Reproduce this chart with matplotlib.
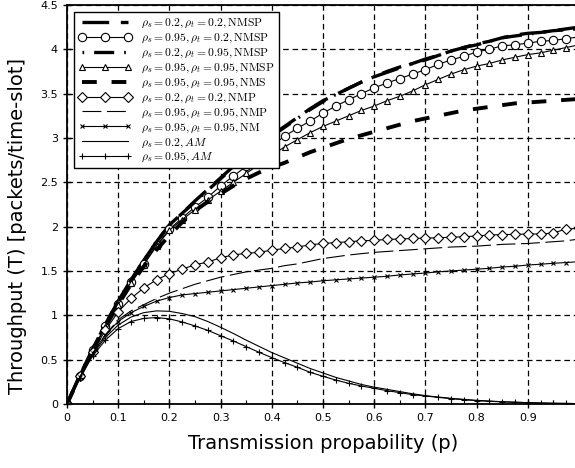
import matplotlib
matplotlib.use('Agg')
import matplotlib.pyplot as plt
import numpy as np

plt.rcParams['mathtext.fontset'] = 'cm'

# transmission probability, one point every 0.025
p = [i / 40 for i in range(41)]

nmsp_02_02 = [0, 0.32, 0.62, 0.90, 1.16, 1.40, 1.62, 1.83, 2.02,
              2.15, 2.29, 2.42, 2.55, 2.68, 2.80, 2.92, 3.03,
              3.13, 3.23, 3.33, 3.42, 3.49, 3.56, 3.63, 3.69,
              3.74, 3.79, 3.84, 3.89, 3.93, 3.98, 4.02, 4.06,
              4.09, 4.13, 4.16, 4.18, 4.19, 4.21, 4.23, 4.25]
nmsp_095_02 = [0, 0.31, 0.61, 0.88, 1.13, 1.37, 1.58, 1.79, 1.97,
               2.10, 2.22, 2.33, 2.46, 2.57, 2.68, 2.79, 2.91,
               3.02, 3.11, 3.19, 3.28, 3.36, 3.43, 3.50, 3.565,
               3.62, 3.67, 3.72, 3.77, 3.83, 3.88, 3.92, 3.97,
               4.00, 4.04, 4.05, 4.07, 4.09, 4.10, 4.12, 4.14]
nmsp_02_095 = [0, 0.32, 0.62, 0.90, 1.16, 1.40, 1.62, 1.83, 2.02,
               2.15, 2.28, 2.41, 2.54, 2.67, 2.79, 2.91, 3.02,
               3.12, 3.22, 3.32, 3.41, 3.49, 3.56, 3.63, 3.69,
               3.75, 3.80, 3.84, 3.88, 3.93, 3.98, 4.02, 4.05,
               4.09, 4.13, 4.15, 4.17, 4.19, 4.21, 4.22, 4.23]
nmsp_095_095 = [0, 0.31, 0.60, 0.87, 1.12, 1.36, 1.57, 1.78, 1.96,
                2.08, 2.19, 2.30, 2.40, 2.50, 2.60, 2.70, 2.80,
                2.90, 2.98, 3.06, 3.13, 3.19, 3.25, 3.31, 3.36,
                3.42, 3.47, 3.53, 3.60, 3.66, 3.72, 3.77, 3.81,
                3.84, 3.88, 3.91, 3.94, 3.96, 3.99, 4.02, 4.05]
nms_095_095 = [0, 0.31, 0.60, 0.87, 1.12, 1.35, 1.55, 1.74, 1.90,
               2.05, 2.18, 2.28, 2.37, 2.46, 2.54, 2.61, 2.67,
               2.72, 2.78, 2.84, 2.89, 2.94, 2.99, 3.03, 3.07,
               3.11, 3.15, 3.19, 3.22, 3.25, 3.28, 3.31, 3.33,
               3.35, 3.37, 3.39, 3.40, 3.41, 3.42, 3.43, 3.44]
nmp_02_02 = [0, 0.31, 0.59, 0.83, 1.04, 1.19, 1.31, 1.40, 1.47,
             1.52, 1.57, 1.60, 1.65, 1.68, 1.70, 1.71, 1.735,
             1.754, 1.77, 1.795, 1.81, 1.82, 1.83, 1.84, 1.845,
             1.856, 1.86, 1.867, 1.87, 1.875, 1.88, 1.886, 1.894,
             1.905, 1.91, 1.913, 1.917, 1.917, 1.928, 1.974, 1.98]
nmp_095_095 = [0, 0.30, 0.57, 0.78, 0.95, 1.05, 1.12, 1.19, 1.25,
               1.30, 1.35, 1.39, 1.43, 1.46, 1.49, 1.51, 1.53,
               1.56, 1.58, 1.61, 1.64, 1.66, 1.68, 1.695, 1.71,
               1.72, 1.73, 1.74, 1.75, 1.76, 1.77, 1.775, 1.78,
               1.79, 1.80, 1.805, 1.81, 1.82, 1.83, 1.84, 1.86]
nm_095_095 = [0, 0.30, 0.57, 0.78, 0.93, 1.03, 1.10, 1.16, 1.20,
              1.23, 1.245, 1.26, 1.275, 1.29, 1.305, 1.32, 1.335,
              1.35, 1.365, 1.375, 1.39, 1.40, 1.41, 1.42, 1.43,
              1.44, 1.455, 1.466, 1.477, 1.49, 1.50, 1.51, 1.52,
              1.53, 1.545, 1.553, 1.567, 1.576, 1.587, 1.595, 1.605]
am_02 = [0, 0.30, 0.56, 0.75, 0.89, 0.98, 1.03, 1.05, 1.045,
         1.02, 0.985, 0.93, 0.865, 0.795, 0.72, 0.65, 0.58,
         0.52, 0.46, 0.40, 0.35, 0.30, 0.26, 0.22, 0.19,
         0.165, 0.14, 0.115, 0.094, 0.078, 0.064, 0.052, 0.041,
         0.033, 0.026, 0.020, 0.015, 0.011, 0.008, 0.006, 0.004]
am_095 = [0, 0.29, 0.54, 0.72, 0.85, 0.93, 0.965, 0.975, 0.96,
          0.925, 0.88, 0.83, 0.77, 0.71, 0.647, 0.583, 0.523,
          0.466, 0.414, 0.357, 0.312, 0.27, 0.233, 0.203, 0.177,
          0.15, 0.128, 0.105, 0.09, 0.075, 0.06, 0.048, 0.038,
          0.03, 0.024, 0.019, 0.015, 0.011, 0.008, 0.006, 0.004]

labels = [r'$\rho_s=0.2, \rho_t=0.2, \mathrm{NMSP}$',
          r'$\rho_s=0.95, \rho_t=0.2, \mathrm{NMSP}$',
          r'$\rho_s=0.2, \rho_t=0.95, \mathrm{NMSP}$',
          r'$\rho_s=0.95, \rho_t=0.95, \mathrm{NMSP}$',
          r'$\rho_s=0.95, \rho_t=0.95, \mathrm{NMS}$',
          r'$\rho_s=0.2, \rho_t=0.2, \mathrm{NMP}$',
          r'$\rho_s=0.95, \rho_t=0.95, \mathrm{NMP}$',
          r'$\rho_s=0.95, \rho_t=0.95, \mathrm{NM}$',
          r'$\rho_s=0.2, AM$',
          r'$\rho_s=0.95, AM$']

fig = plt.figure(figsize=(5.75, 4.68), dpi=100)
ax = fig.add_axes([0.1165, 0.1368, 0.8904, 0.8526])

thin = 0.8
ax.plot(p, nmsp_02_02, color='k', lw=2.4, dashes=(8, 3.5), label=labels[0])
ax.plot(p, nmsp_095_02, color='k', lw=thin, marker='o', ms=6, mfc='white',
        mew=0.8, label=labels[1])
ax.plot(p, nmsp_02_095, color='k', lw=2.4, dashes=(0.5, 3, 6, 3), label=labels[2])
ax.plot(p, nmsp_095_095, color='k', lw=thin, marker='^', ms=4, mfc='white',
        mew=0.8, label=labels[3])
ax.plot(p, nms_095_095, color='k', lw=2.8, dashes=(3.8, 3.8), label=labels[4])
ax.plot(p, nmp_02_02, color='k', lw=thin, marker='D', ms=5, mfc='white',
        mew=0.8, label=labels[5])
ax.plot(p, nmp_095_095, color='k', lw=thin, dashes=(17, 5), label=labels[6])
ax.plot(p, nm_095_095, color='k', lw=thin, marker='x', ms=3.5, mew=0.8,
        label=labels[7])
ax.plot(p, am_02, color='k', lw=thin, label=labels[8])
ax.plot(p, am_095, color='k', lw=thin, marker='+', ms=4, mew=0.8, label=labels[9])

ax.set_xlim(0, 1)
ax.set_ylim(0, 4.5)
ax.set_xticks(np.arange(0, 1.01, 0.1))
ax.set_xticklabels(['0', '0.1', '0.2', '0.3', '0.4', '0.5', '0.6', '0.7', '0.8', '0.9', '1'])
ax.set_xticks(np.arange(0.05, 1, 0.1), minor=True)
ax.set_yticks(np.arange(0, 4.51, 0.5))
ax.set_yticklabels(['0', '0.5', '1', '1.5', '2', '2.5', '3', '3.5', '4', '4.5'])
ax.tick_params(which='major', direction='inout', length=6, width=1, labelsize=8)
ax.tick_params(which='minor', direction='in', length=3, width=0.8)
ax.grid(True, which='major', color='k', lw=0.9, linestyle=(0, (4.5, 3)))
for s in ax.spines.values():
    s.set_linewidth(1.3)

ax.set_xlabel('Transmission propability (p)', fontsize=14, labelpad=8)
ax.set_ylabel('Throughput (T) [packets/time-slot]', fontsize=14)
ax.yaxis.set_label_coords(-0.078, 0.446)

leg = ax.legend(loc='upper left', bbox_to_anchor=(0.0137, 0.982), borderaxespad=0,
                fontsize=8.4, handlelength=4.6, labelspacing=0.06, fancybox=False,
                framealpha=1, edgecolor='k', borderpad=0.35, handletextpad=0.8,
                numpoints=3)
leg.get_frame().set_linewidth(1.0)

fig.savefig('out.png', dpi=100)
